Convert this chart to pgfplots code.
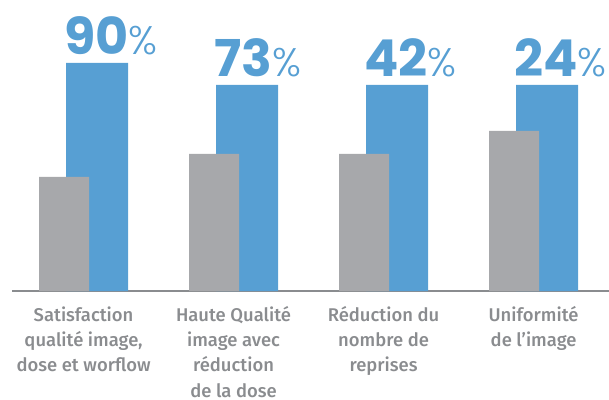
\documentclass[border=0pt]{standalone}
\usepackage{fontspec}
\usepackage{pgfplots}
\pgfplotsset{compat=1.18}
\setmainfont{Fira Sans Medium}
\newfontfamily\numfont{Poppins}
\newfontfamily\pctfont{Poppins Light}
\definecolor{barblue}{HTML}{579FD3}
\definecolor{bargray}{HTML}{A7A8AB}
\definecolor{labelgray}{HTML}{8A8C8F}

\begin{document}
\begin{tikzpicture}
\path[use as bounding box] (-12bp,-109bp) rectangle (597bp,291bp);
\begin{axis}[
  scale only axis, width=597bp, height=291bp,
  xmin=-0.477, xmax=3.503, ymin=0, ymax=291,
  axis y line=none, axis x line*=bottom,
  x axis line style={labelgray, line width=2bp},
  xtick={0,1,2,3}, xtick style={draw=none},
  xticklabels={{Satisfaction\\qualité image,\\dose et worflow},
               {Haute Qualité\\image avec\\réduction\\de la dose},
               {Réduction du\\nombre de\\reprises},
               {Uniformité\\de l’image}},
  xticklabel style={align=center, text=labelgray, anchor=north, inner sep=0pt,
    yshift=-11bp, font=\fontsize{18.5}{25.3}\selectfont},
  ybar, clip=false,
]
% blue bars (behind)
\addplot[ybar, fill=barblue, draw=none, bar width=62bp, bar shift=13.5bp,
  point meta=explicit symbolic,
  nodes near coords={\numfont\bfseries\fontsize{51}{51}\selectfont\pgfplotspointmeta\pctfont\mdseries\fontsize{40}{40}\selectfont\%},
  every node near coord/.append style={text=barblue,
    anchor=base west, inner sep=0pt, xshift=-33bp, yshift=8bp}]
  coordinates {(0,228)[90] (1,206)[73] (2,206)[42] (3,206)[24]};
% gray bars (front)
\addplot[ybar, fill=bargray, draw=none, bar width=50bp, bar shift=-19.5bp]
  coordinates {(0,114) (1,137) (2,137) (3,160)};
\end{axis}
\end{tikzpicture}
\end{document}
